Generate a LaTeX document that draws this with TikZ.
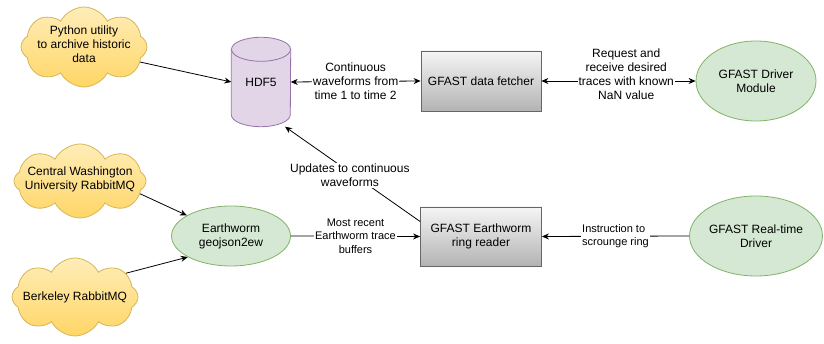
\documentclass[tikz,border=0pt]{standalone}
\usepackage{fontspec}
\setmainfont{Liberation Sans}
\usetikzlibrary{shapes.symbols,shapes.geometric,arrows.meta,backgrounds}

\definecolor{cloudtop}{HTML}{FFEDB8}
\definecolor{cloudbot}{HTML}{FFD666}
\definecolor{cloudline}{HTML}{D6B656}
\definecolor{boxtop}{HTML}{F5F5F5}
\definecolor{boxbot}{HTML}{B3B3B3}
\definecolor{boxline}{HTML}{666666}
\definecolor{ovalfill}{HTML}{D5E8D4}
\definecolor{ovalline}{HTML}{82B366}
\definecolor{cylfill}{HTML}{E1D5E7}
\definecolor{cylline}{HTML}{9673A6}

\begin{document}
\begin{tikzpicture}[x=1pt,y=1pt,
  every node/.style={font=\fontsize{12}{14}\selectfont, align=center, inner sep=0pt},
  cloudnode/.style={cloud, cloud puffs=8, cloud puff arc=125, cloud ignores aspect,
    draw=cloudline, top color=cloudtop, bottom color=cloudbot, line width=0.8pt},
  procbox/.style={rectangle, draw=boxline, top color=boxtop, bottom color=boxbot,
    line width=0.8pt, minimum width=120, minimum height=60},
  ovalnode/.style={ellipse, draw=ovalline, fill=ovalfill, line width=0.8pt},
  storebox/.style={rectangle, minimum width=59, minimum height=89},
  link/.style={draw, line width=0.8pt, -{Stealth[length=7pt,width=6pt]}},
  duallink/.style={draw, line width=0.8pt, {Stealth[length=7pt,width=6pt]}-{Stealth[length=7pt,width=6pt]}},
  edgelabel/.style={fill=white, inner sep=1pt},
  smalllabel/.style={edgelabel, font=\fontsize{11}{13.5}\selectfont}
]
\useasboundingbox (0,0) rectangle (824,344);

% sources
\node[cloudnode, minimum width=126, minimum height=80,
  label={[yshift=3]center:Python utility\\to archive historic\\data}] (py) at (84,297) {};
\node[cloudnode, minimum width=132, minimum height=74,
  label={[yshift=2]center:Central Washington\\University RabbitMQ}] (cw) at (80,163) {};
\node[cloudnode, minimum width=126, minimum height=78,
  label={center:Berkeley RabbitMQ}] (bk) at (75,47) {};

% HDF5 store
\node[storebox] (hdf) at (261,262) {HDF5};
\begin{scope}[on background layer]
  \fill[cylfill] ([yshift=-12]hdf.north west) -- ([yshift=12]hdf.south west)
    arc[start angle=180, end angle=360, x radius=29.5, y radius=12]
    -- ([yshift=-12]hdf.north east)
    arc[start angle=0, end angle=180, x radius=29.5, y radius=12] -- cycle;
  \draw[cylline, line width=0.8pt] ([yshift=-12]hdf.north west) -- ([yshift=12]hdf.south west)
    arc[start angle=180, end angle=360, x radius=29.5, y radius=12]
    -- ([yshift=-12]hdf.north east);
  \draw[cylline, line width=0.8pt] ([yshift=-12]hdf.north) ellipse[x radius=29.5, y radius=12];
\end{scope}

% processes
\node[procbox] (fetch) at (481,263) {GFAST data fetcher};
\node[procbox, minimum width=121, minimum height=59] (ring) at (481,107.5)
  {GFAST Earthworm\\ring reader};

% ovals
\node[ovalnode, minimum width=120, minimum height=80] (drv) at (756,263)
  {GFAST Driver\\Module};
\node[ovalnode, minimum width=119, minimum height=60] (ew) at (231,108)
  {Earthworm\\geojson2ew};
\node[ovalnode, minimum width=129, minimum height=80] (rt) at (756,108)
  {GFAST Real-time\\Driver};

% connectors
\draw[link] (py.-15) -- (hdf.west);
\draw[link] (cw.-12) -- (ew.155);
\draw[link] (bk.25) -- (ew.206);

\draw[duallink] (hdf.east) -- node[edgelabel] {Continuous\\waveforms from\\time 1 to time 2} (fetch.west);
\draw[duallink] (fetch.east) -- node[edgelabel, pos=0.55, yshift=7]
  {Request and\\receive desired\\traces with known\\NaN value} (drv.west);

\draw[link] (ew.east) -- node[smalllabel] {Most recent\\Earthworm trace\\buffers} (ring.west);
\draw[link] (rt.west) -- node[smalllabel, align=left] {Instruction to\\scrounge ring} (ring.east);

\coordinate (hdfin) at ([xshift=24]hdf.south);
\draw[link] ([yshift=15]ring.west) -- node[edgelabel, pos=0.52, yshift=-3]
  {Updates to continuous\\waveforms} (hdfin);
\end{tikzpicture}
\end{document}
